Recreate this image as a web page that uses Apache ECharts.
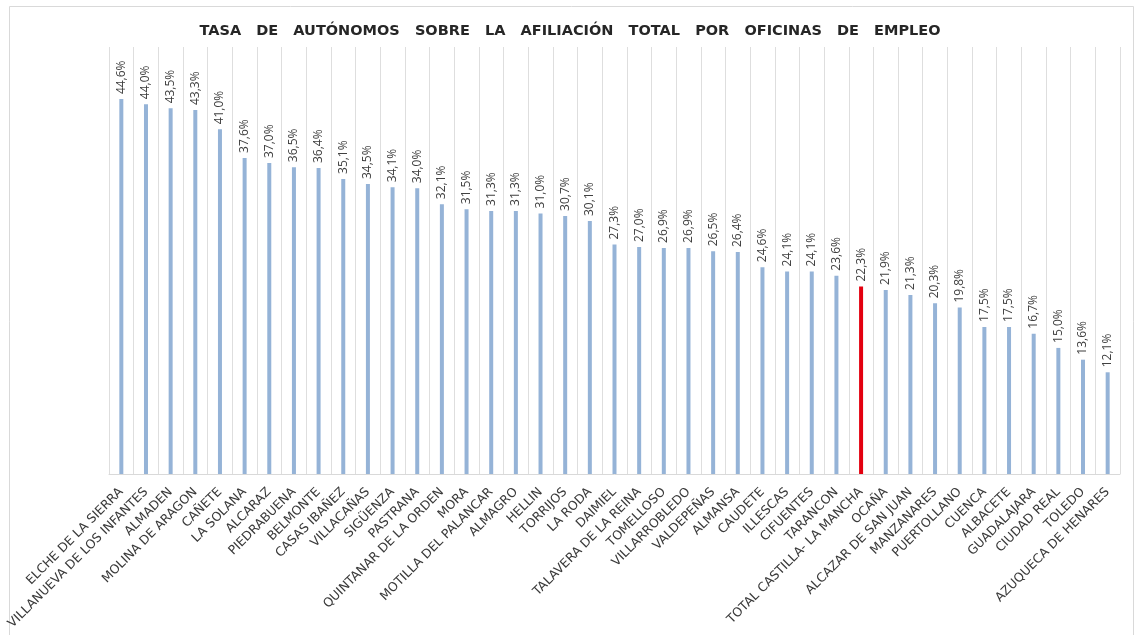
<!DOCTYPE html>
<html>
<head>
<meta charset="utf-8">
<script src="https://cdn.jsdelivr.net/npm/echarts@6/dist/echarts.min.js"></script>
<style>
html,body{margin:0;padding:0;background:#fff;}
#chart{width:1140px;height:635px;}
</style>
</head>
<body>
<div id="chart"></div>
<script>
const categories = [
  "ELCHE DE LA SIERRA","VILLANUEVA DE LOS INFANTES","ALMADEN","MOLINA DE ARAGON","CAÑETE",
  "LA SOLANA","ALCARAZ","PIEDRABUENA","BELMONTE","CASAS IBAÑEZ",
  "VILLACAÑAS","SIGÜENZA","PASTRANA","QUINTANAR DE LA ORDEN","MORA",
  "MOTILLA DEL PALANCAR","ALMAGRO","HELLIN","TORRIJOS","LA RODA",
  "DAIMIEL","TALAVERA DE LA REINA","TOMELLOSO","VILLARROBLEDO","VALDEPEÑAS",
  "ALMANSA","CAUDETE","ILLESCAS","CIFUENTES","TARANCON",
  "TOTAL CASTILLA- LA MANCHA","OCAÑA","ALCAZAR DE SAN JUAN","MANZANARES","PUERTOLLANO",
  "CUENCA","ALBACETE","GUADALAJARA","CIUDAD REAL","TOLEDO","AZUQUECA DE HENARES"
];
const values = [
  44.6,44.0,43.5,43.3,41.0,
  37.6,37.0,36.5,36.4,35.1,
  34.5,34.1,34.0,32.1,31.5,
  31.3,31.3,31.0,30.7,30.1,
  27.3,27.0,26.9,26.9,26.5,
  26.4,24.6,24.1,24.1,23.6,
  22.3,21.9,21.3,20.3,19.8,
  17.5,17.5,16.7,15.0,13.6,12.1
];
const highlightCategory = "TOTAL CASTILLA- LA MANCHA";
const titleText = "TASA   DE   AUTÓNOMOS   SOBRE   LA   AFILIACIÓN   TOTAL   POR   OFICINAS   DE   EMPLEO";

const chart = echarts.init(document.getElementById('chart'), null, {renderer:'canvas'});
const barData = values.map((v,i)=>({
  value: v,
  itemStyle: { color: categories[i] === highlightCategory ? '#e3000f' : '#95b3d7' }
}));

chart.setOption({
  animation: false,
  backgroundColor: '#ffffff',
  title: {
    text: titleText,
    left: 'center',
    top: 19,
    textStyle: { fontFamily: 'DejaVu Sans', fontWeight: 'bold', fontSize: 14.5, color: '#262626' }
  },
  graphic: [{
    type: 'rect',
    shape: { x: 9.5, y: 6.5, width: 1124, height: 700 },
    style: { fill: 'none', stroke: '#d9d9d9', lineWidth: 1 },
    silent: true, z: -1
  }],
  grid: { left: 109, right: 20, top: 47, bottom: 161, containLabel: false },
  xAxis: {
    type: 'category',
    data: categories,
    boundaryGap: true,
    axisLine: { show: true, lineStyle: { color: '#d9d9d9' } },
    axisTick: { show: false },
    splitLine: { show: true, lineStyle: { color: '#dedede', width: 1 } },
    axisLabel: {
      interval: 0,
      rotate: 45,
      margin: 16,
      fontFamily: 'DejaVu Sans',
      fontWeight: 'normal',
      fontSize: 12.5,
      color: '#3a3a3a'
    }
  },
  yAxis: {
    type: 'value',
    min: 0,
    max: 50.8,
    show: false,
    splitLine: { show: false }
  },
  series: [{
    type: 'bar',
    data: barData,
    barWidth: 4,
    label: {
      show: true,
      position: 'top',
      rotate: 90,
      align: 'left',
      verticalAlign: 'middle',
      distance: 5,
      fontFamily: 'Open Sans',
      fontSize: 12,
      color: '#404040',
      formatter: p => p.value.toFixed(1).replace('.', ',') + '%'
    }
  }]
});
</script>
</body>
</html>
